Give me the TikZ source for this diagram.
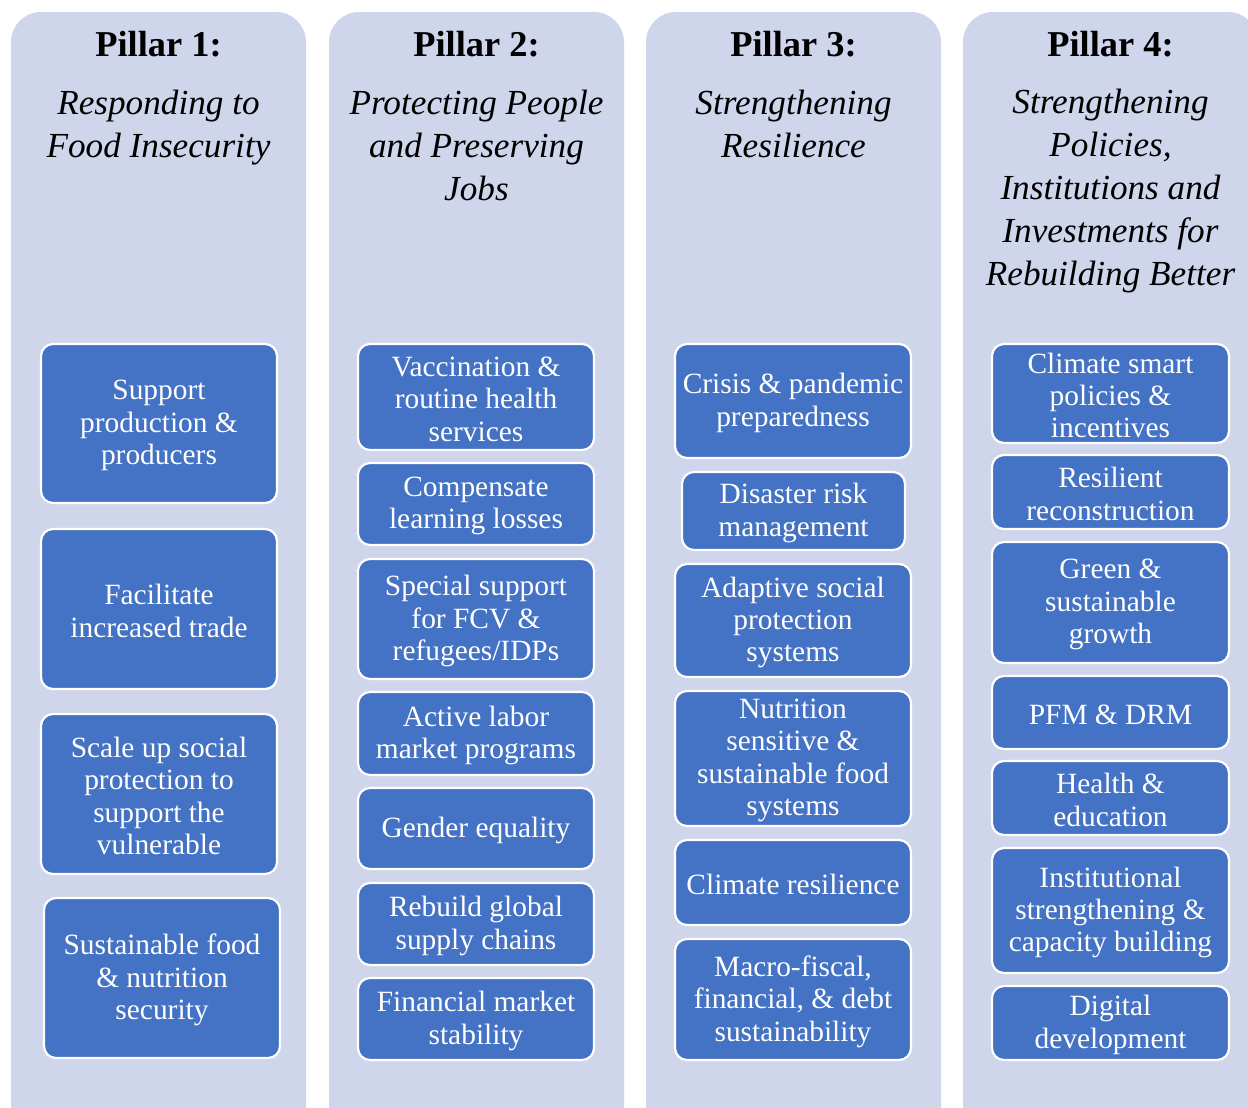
\documentclass[tikz,border=0pt]{standalone}
\usepackage{fontspec}
\setmainfont{Liberation Serif}
\usetikzlibrary{fit}
\definecolor{pillarbg}{HTML}{CFD5EA}
\definecolor{boxblue}{HTML}{4472C4}
\tikzset{
  pillar/.style={fill=pillarbg, draw=none, rounded corners=15pt},
  bx/.style={fill=boxblue, draw=white, line width=1.1pt, rounded corners=6pt,
    inner sep=0pt},
  bxtext/.style={text=white, align=center, inner sep=0pt, yshift=-1pt,
    font=\fontsize{14.7pt}{16.2pt}\selectfont},
  ptitle/.style={font=\fontsize{18.2pt}{20pt}\selectfont\bfseries, anchor=center},
  psub/.style={font=\fontsize{17.6pt}{21.5pt}\selectfont\itshape, align=center, anchor=center}
}
% blue item box between two corners, with its text centred inside
\newcommand\pbox[6]{\node[bx, fit={(#2,#3)(#4,#5)}] (#1) {};
  \node[bxtext] (#1-text) at (#1.center) {#6};}
\begin{document}
\begin{tikzpicture}[x=0.5pt,y=-0.5pt]
\useasboundingbox (0,0) rectangle (1248,1108);
\clip (0,0) rectangle (1248,1108);
\fill[white] (0,0) rectangle (1248,1108);
% four pillar backgrounds
\path[pillar] (11,12) rectangle (306,1140);
\path[pillar] (329,12) rectangle (624,1140);
\path[pillar] (646,12) rectangle (941,1140);
\path[pillar] (963,12) rectangle (1258,1140);
% headings
\node[ptitle] (t1) at (158.5,44) {Pillar 1:};
\node[ptitle] (t2) at (476.5,44) {Pillar 2:};
\node[ptitle] (t3) at (793.5,44) {Pillar 3:};
\node[ptitle] (t4) at (1110.5,44) {Pillar 4:};
\node[psub] (s1) at (158.5,128) {Responding to\\Food Insecurity};
\node[psub] (s2) at (476.5,145) {Protecting People\\and Preserving\\Jobs};
\node[psub] (s3) at (793.5,124) {Strengthening\\Resilience};
\node[psub] (s4) at (1110.5,191) {Strengthening\\Policies,\\Institutions and\\Investments for\\Rebuilding Better};
% pillar 1
\pbox{a1}{41}{344}{277}{503}{Support\\production \&\\producers}
\pbox{a2}{41}{529}{277}{689}{Facilitate\\increased trade}
\pbox{a3}{41}{714}{277}{874}{Scale up social\\protection to\\support the\\vulnerable}
\pbox{a4}{44}{898}{280}{1058}{Sustainable food\\\& nutrition\\security}
% pillar 2
\pbox{b1}{358}{344}{594}{450}{Vaccination \&\\routine health\\services}
\pbox{b2}{358}{463}{594}{545}{Compensate\\learning losses}
\pbox{b3}{358}{559}{594}{679}{Special support\\for FCV \&\\refugees/IDPs}
\pbox{b4}{358}{692}{594}{775}{Active labor\\market programs}
\pbox{b5}{358}{788}{594}{869}{Gender equality}
\pbox{b6}{358}{883}{594}{965}{Rebuild global\\supply chains}
\pbox{b7}{358}{978}{594}{1060}{Financial market\\stability}
% pillar 3
\pbox{c1}{675}{344}{911}{458}{Crisis \& pandemic\\preparedness}
\pbox{c2}{682}{472}{905}{550}{Disaster risk\\management}
\pbox{c3}{675}{564}{911}{677}{Adaptive social\\protection\\systems}
\pbox{c4}{675}{691}{911}{826}{Nutrition\\sensitive \&\\sustainable food\\systems}
\pbox{c5}{675}{840}{911}{925}{Climate resilience}
\pbox{c6}{675}{939}{911}{1060}{Macro-fiscal,\\financial, \& debt\\sustainability}
% pillar 4
\pbox{d1}{992}{344}{1229}{443}{Climate smart\\policies \&\\incentives}
\pbox{d2}{992}{455}{1229}{529}{Resilient\\reconstruction}
\pbox{d3}{992}{542}{1229}{663}{Green \&\\sustainable\\growth}
\pbox{d4}{992}{676}{1229}{749}{PFM \& DRM}
\pbox{d5}{992}{761}{1229}{835}{Health \&\\education}
\pbox{d6}{992}{848}{1229}{973}{Institutional\\strengthening \&\\capacity building}
\pbox{d7}{992}{986}{1229}{1060}{Digital\\development}
\end{tikzpicture}
\end{document}
